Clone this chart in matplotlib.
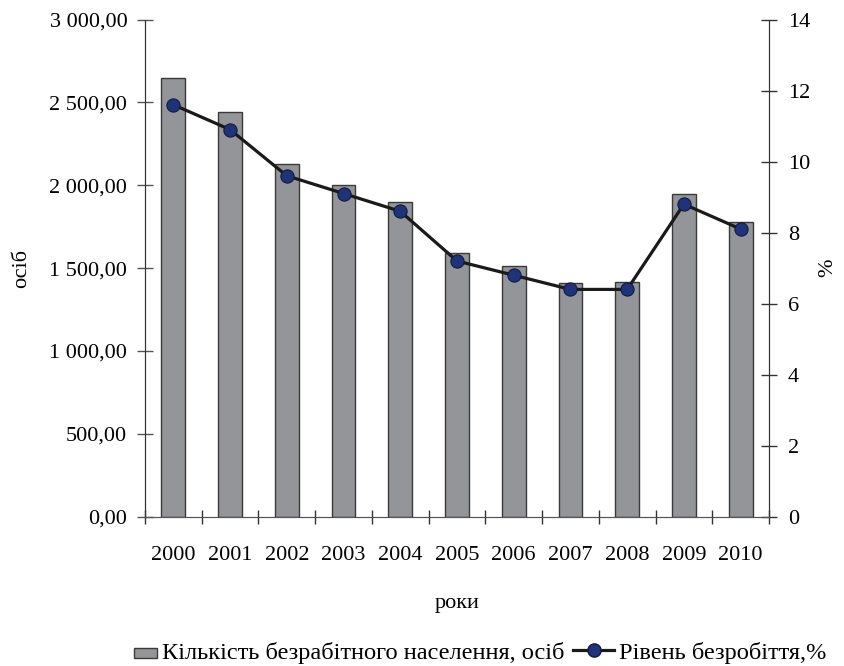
import matplotlib.pyplot as plt
from matplotlib.ticker import FuncFormatter, MultipleLocator, FixedLocator
from matplotlib.patches import Patch, Rectangle
from matplotlib.lines import Line2D
from matplotlib.legend_handler import HandlerPatch

plt.rcParams['font.family'] = ['Liberation Serif', 'DejaVu Serif']

years = ['2000', '2001', '2002', '2003', '2004', '2005', '2006', '2007', '2008', '2009', '2010']
unemployed = [2648, 2444, 2130, 2003, 1900, 1592, 1511, 1412, 1419, 1950, 1778]
rate = [11.6, 10.9, 9.6, 9.1, 8.6, 7.2, 6.8, 6.4, 6.4, 8.8, 8.1]

bar_label = 'Кількість безрабітного населення, осіб'
line_label = 'Рівень безробіття,%'

BAR_COLOR = '#939598'
EDGE = '#3a3a3a'
MARKER = '#1f3478'

fig = plt.figure(figsize=(8.44, 6.66), dpi=100)
ax = fig.add_axes([0.1718, 0.2242, 0.7393, 0.7465])
x = list(range(len(years)))

ax.bar(x, unemployed, width=0.42, color=BAR_COLOR, edgecolor=EDGE, linewidth=1.0, zorder=2)
ax.set_xlim(-0.5, len(years) - 0.5)
ax.set_ylim(0, 3000)
ax.yaxis.set_major_locator(MultipleLocator(500))

def fmt(v, pos):
    return f'{v:,.2f}'.replace(',', ' ').replace('.', ',')

ax.yaxis.set_major_formatter(FuncFormatter(fmt))
ax.set_xticks(x)
ax.set_xticklabels(years)
ax.xaxis.set_minor_locator(FixedLocator([i - 0.5 for i in range(len(years) + 1)]))
ax.tick_params(axis='x', which='major', length=0, pad=21, labelsize=16)
ax.tick_params(axis='x', which='minor', direction='inout', length=9.5, width=1, color='#333333')
ax.tick_params(axis='y', direction='inout', length=11.5, width=1, color='#555555', labelsize=16, pad=7)
ax.set_ylabel('осіб', fontsize=16, labelpad=13)
ax.set_xlabel('роки', fontsize=16, labelpad=21)

ax2 = ax.twinx()
ax2.plot(x, rate, color='#1a1a1a', linewidth=2.3, marker='o', markersize=9.5,
         markerfacecolor=MARKER, markeredgecolor='#111a40', markeredgewidth=0.8, zorder=3)
ax2.set_ylim(0, 14)
ax2.yaxis.set_major_locator(MultipleLocator(2))
ax2.tick_params(axis='y', direction='inout', length=11.5, width=1, color='#333333', labelsize=16, pad=8)
ax2.set_ylabel('%', fontsize=16, labelpad=6)

for a in (ax, ax2):
    a.spines['top'].set_visible(False)
    a.spines['left'].set_color('#333333')
    a.spines['right'].set_color('#333333')
    a.spines['bottom'].set_color('#555555')


def small_rect(legend, orig_handle, xdescent, ydescent, width, height, fontsize):
    return Rectangle((-xdescent + width * 0.46, -ydescent + height * 0.05), width * 0.54, height * 0.62)


handles = [
    Patch(facecolor=BAR_COLOR, edgecolor=EDGE, label=bar_label),
    Line2D([0], [0], color='#1a1a1a', linewidth=2.3, marker='o', markersize=9.5,
           markerfacecolor=MARKER, markeredgecolor='#111a40', label=line_label),
]
fig.legend(handles=handles, loc='lower center', bbox_to_anchor=(0.558, -0.03), ncol=2,
           frameon=False, fontsize=17.6, handlelength=1.7, handletextpad=0.2, columnspacing=0.35,
           handler_map={Patch: HandlerPatch(patch_func=small_rect)})

fig.savefig('out.png', dpi=100)
